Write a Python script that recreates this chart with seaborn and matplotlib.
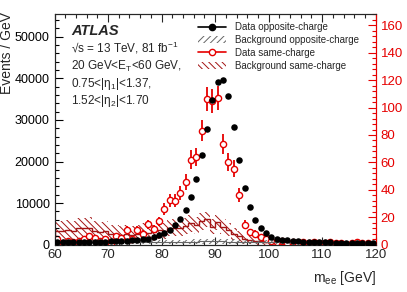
import numpy as np
import matplotlib
matplotlib.use("Agg")
import matplotlib.pyplot as plt
import seaborn as sns
from matplotlib.lines import Line2D
from matplotlib.patches import Patch
from matplotlib.ticker import MultipleLocator, AutoMinorLocator

# bin centres (1 GeV bins, 60-120 GeV)
m_ee = np.arange(60.5, 120, 1.0)

# data opposite-charge (left axis, events / GeV)
data_os = [560, 580, 570, 600, 620, 640, 650, 690, 720, 760,
           800, 840, 900, 960, 1030, 1130, 1260, 1450, 1780, 2300,
           2750, 3550, 4650, 6200, 8350, 11550, 15800, 21500, 27800, 34900,
           39100, 39600, 35700, 28400, 20400, 13650, 8950, 5900, 3980, 2780,
           1880, 1440, 1200, 1050, 920, 830, 760, 700, 650, 610,
           570, 540, 510, 480, 460, 440, 420, 400, 390, 370]

# background opposite-charge (left axis) and its uncertainty
bkg_os = [620, 610, 600, 610, 590, 600, 580, 590, 570, 580,
          570, 580, 560, 570, 560, 570, 580, 590, 600, 620,
          640, 660, 680, 700, 720, 740, 760, 780, 790, 800,
          790, 780, 760, 740, 720, 700, 680, 660, 640, 620,
          600, 590, 580, 570, 560, 550, 540, 530, 520, 510,
          500, 500, 490, 480, 480, 470, 470, 460, 460, 450]
bkg_os_err = [480, 470, 470, 470, 460, 460, 450, 450, 450, 450,
              440, 440, 440, 440, 440, 440, 450, 450, 460, 470,
              480, 490, 500, 510, 520, 530, 540, 550, 560, 560,
              560, 550, 540, 530, 520, 510, 500, 490, 480, 470,
              460, 450, 450, 440, 440, 430, 430, 420, 420, 410,
              400, 400, 400, 390, 390, 380, 380, 370, 370, 360]

# data same-charge (right axis)
data_ss = [4, 1, 3, 2, 3, 4, 6, 5, 3, 4,
           0, 6, 5, 11, 4, 11, 8, 15, 11.5, 17,
           26, 32.5, 32, 37.5, 45.5, 62, 64, 83, 106, 105,
           107, 73.5, 60, 55.5, 36.5, 14.5, 9, 8, 5.5, 4,
           3, 2, 3, 1, 2, 1, 2, 1, 2, 1,
           1, 2, 1, 1, 0, 1, 2, 1, 1, 0]
data_ss_err = [1.7, 0.9, 1.5, 1.2, 1.5, 1.7, 2.1, 1.9, 1.5, 1.7,
               0.0, 2.1, 1.9, 2.8, 1.7, 2.8, 2.4, 3.3, 2.9, 3.5,
               4.3, 4.8, 4.8, 5.2, 5.7, 6.7, 6.8, 7.7, 8.8, 8.7,
               8.8, 7.3, 6.6, 6.3, 5.1, 3.2, 2.6, 2.4, 2.0, 1.7,
               1.5, 1.2, 1.5, 0.9, 1.2, 0.9, 1.2, 0.9, 1.2, 0.9,
               0.9, 1.2, 0.9, 0.9, 0.0, 0.9, 1.2, 0.9, 0.9, 0.0]

# background same-charge (right axis) and its uncertainty
bkg_ss = [10, 10, 10.5, 10, 12, 12, 12.5, 10, 9.5, 10,
          8, 7.5, 7, 7.5, 7, 7.5, 9, 8.5, 9, 10.5,
          10, 12, 12.5, 12, 13.5, 15.5, 14, 17, 18.5, 13,
          16.5, 13, 11, 8, 6, 4, 3.5, 3, 2.5, 2,
          1.5, 1.2, 1.0, 1.0, 0.9, 0.9, 0.8, 0.8, 0.8, 0.7,
          0.7, 0.7, 0.6, 0.6, 0.6, 0.6, 0.5, 0.5, 0.5, 0.5]
bkg_ss_err = [7.5, 7.5, 7.5, 7.5, 7.5, 7.5, 7.5, 7, 7, 7,
              6.5, 6.5, 6.5, 6.5, 6.5, 6.5, 6.5, 6.5, 6.5, 6.5,
              6, 6, 6, 6, 6, 6, 6, 6, 5.5, 5.5,
              5.5, 5.5, 5, 4.5, 4, 3.5, 3, 3, 2.5, 2,
              1.8, 1.5, 1.4, 1.3, 1.2, 1.2, 1.1, 1.1, 1.0, 1.0,
              1.0, 1.0, 0.9, 0.9, 0.9, 0.9, 0.8, 0.8, 0.8, 0.8]

legend_labels = ["Data opposite-charge", "Background opposite-charge",
                 "Data same-charge", "Background same-charge"]

RED = "#e60000"
BROWN = "#a31414"
GRAY = "#666666"

sns.set_style("ticks")
plt.rcParams["font.family"] = ["Liberation Sans", "DejaVu Sans"]
plt.rcParams["mathtext.fontset"] = "custom"
plt.rcParams["mathtext.rm"] = "Liberation Sans"
plt.rcParams["mathtext.it"] = "Liberation Sans:italic"
plt.rcParams["hatch.linewidth"] = 0.7

fig = plt.figure(figsize=(4.07, 2.92), dpi=100)
ax = fig.add_axes([0.134, 0.162, 0.789, 0.789])   # same-charge (right scale)
ax2 = ax.twinx()                                   # opposite-charge (left scale)

edges = np.append(m_ee - 0.5, m_ee[-1] + 0.5)

# same-charge background
ss = np.array(bkg_ss)
sse = np.array(bkg_ss_err)
ax.stairs(ss + sse, edges, baseline=np.clip(ss - sse, 0, None), fill=True,
          facecolor="none", edgecolor=BROWN, hatch="\\\\\\\\\\", linewidth=0)
ax.stairs(ss, edges, color=BROWN, linewidth=1.0)

# same-charge data
ax.errorbar(m_ee, data_ss, yerr=data_ss_err, fmt="none", ecolor=RED,
            elinewidth=1.3, capsize=0, zorder=4)
sns.scatterplot(x=m_ee, y=data_ss, ax=ax, color="white", edgecolor=RED,
                linewidth=1.0, s=20, zorder=5)

# opposite-charge background
os_ = np.array(bkg_os)
ose = np.array(bkg_os_err)
ax2.stairs(os_ + ose, edges, baseline=np.clip(os_ - ose, 0, None), fill=True,
           facecolor="none", edgecolor=GRAY, hatch="/////", linewidth=0)
ax2.stairs(os_, edges, color=GRAY, linewidth=0.8)

# opposite-charge data
sns.scatterplot(x=m_ee, y=data_os, ax=ax2, color="black", edgecolor="black",
                linewidth=0, s=22, zorder=6)

ax.set_xlim(60, 120)
ax.set_ylim(0, 168)
ax2.set_ylim(0, 55400)

# axis styling
ax.yaxis.tick_right()
ax.yaxis.set_label_position("right")
ax2.yaxis.tick_left()
ax2.yaxis.set_label_position("left")

ax.xaxis.set_major_locator(MultipleLocator(10))
ax.xaxis.set_minor_locator(AutoMinorLocator(5))
ax.yaxis.set_major_locator(MultipleLocator(20))
ax.yaxis.set_minor_locator(AutoMinorLocator(5))
ax2.yaxis.set_major_locator(MultipleLocator(10000))
ax2.yaxis.set_minor_locator(AutoMinorLocator(5))

ax.tick_params(axis="x", which="both", direction="in", top=True, bottom=True,
               labelsize=9.5, pad=3)
ax.tick_params(axis="x", which="major", length=6, width=0.8)
ax.tick_params(axis="x", which="minor", length=3, width=0.8)
ax.tick_params(axis="y", which="both", direction="in", colors=RED,
               labelsize=9.5, left=False, right=True, labelright=True, labelleft=False)
ax.tick_params(axis="y", which="major", length=6, width=0.8)
ax.tick_params(axis="y", which="minor", length=3, width=0.8)
ax2.tick_params(axis="y", which="both", direction="in", colors="black",
                labelsize=9, left=True, right=False, labelleft=True, labelright=False)
ax2.tick_params(axis="y", which="major", length=6, width=0.8)
ax2.tick_params(axis="y", which="minor", length=3, width=0.8)

for a in (ax, ax2):
    for s in a.spines.values():
        s.set_linewidth(0.8)
ax.spines["right"].set_color(RED)
ax2.spines["right"].set_color(RED)

fig.text(7.5 / 407, 1 - 12 / 292, "Events / GeV", fontsize=10, rotation=90,
         ha="center", va="top")
ax.set_xlabel(r"m$_{\mathrm{ee}}$ [GeV]", fontsize=10, loc="right", labelpad=6)

# ATLAS label and selection
fig.text(71 / 407, 1 - 35 / 292, "ATLAS", fontsize=10.5, weight="bold",
         style="italic", va="baseline")
info = [r"√s = 13 TeV, 81 fb$^{\mathrm{-1}}$",
        r"20 GeV<E$_{\mathrm{T}}$<60 GeV,",
        r"0.75<|$\mathrm{\eta}_{\mathrm{1}}$|<1.37,",
        r"1.52<|$\mathrm{\eta}_{\mathrm{2}}$|<1.70"]
for i, t in enumerate(info):
    fig.text(71 / 407, 1 - (53 + 17 * i) / 292, t, fontsize=8.5, va="baseline")

handles = [
    Line2D([], [], color="black", marker="o", markersize=4.5, lw=1.2),
    Patch(facecolor="none", edgecolor=GRAY, hatch="/////", lw=0),
    Line2D([], [], color=RED, marker="o", markersize=4.5, mfc="white",
           mec=RED, lw=1.2),
    Patch(facecolor="none", edgecolor=BROWN, hatch="\\\\\\\\\\", lw=0),
]
ax2.legend(handles, legend_labels, loc="upper left",
           bbox_to_anchor=(198 / 407, 1 - 22 / 292),
           bbox_transform=fig.transFigure, frameon=False, fontsize=7,
           handlelength=2.9, handletextpad=0.9, labelspacing=0.3,
           borderpad=0, borderaxespad=0)

fig.savefig("out.png", dpi=100)
